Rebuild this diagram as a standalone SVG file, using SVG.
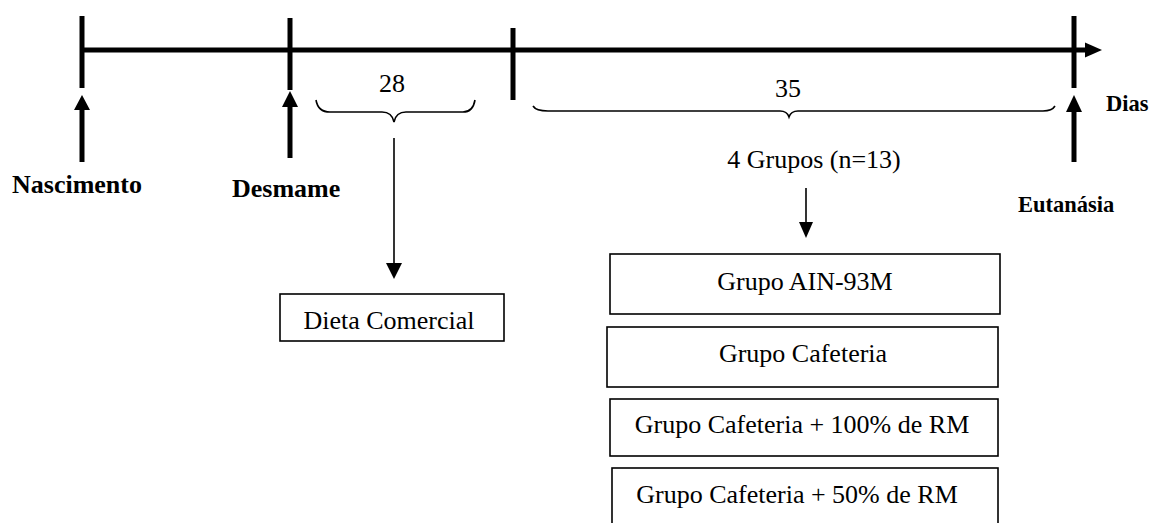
<svg xmlns="http://www.w3.org/2000/svg" width="1153" height="523" viewBox="0 0 1153 523">
<style>
.t{font-family:"Liberation Serif","Times New Roman",serif;font-size:26px;fill:#000}
.b{font-weight:bold}
.box{fill:#fff;stroke:#000;stroke-width:1.6}
.thick{stroke:#000;stroke-width:5;fill:none}
.thin{stroke:#000;stroke-width:1.6;fill:none}
.head{fill:#000;stroke:none}
</style>
<g id="connectors">
  <line class="thick" x1="82" y1="50" x2="1088" y2="50"/>
  <polygon class="head" points="1085,42.5 1102,50 1085,57.5"/>
  <line class="thick" x1="82" y1="16" x2="82" y2="88"/>
  <line class="thick" x1="290" y1="18" x2="290" y2="90"/>
  <line class="thick" x1="513" y1="28" x2="513" y2="100"/>
  <line class="thick" x1="1074" y1="16" x2="1074" y2="88"/>
  <line class="thick" x1="82" y1="108" x2="82" y2="162"/>
  <polygon class="head" points="74,110 82,95 90,110"/>
  <line class="thick" x1="290" y1="105" x2="290" y2="158"/>
  <polygon class="head" points="282,107 290,91 298,107"/>
  <line class="thick" x1="1074" y1="110" x2="1074" y2="162"/>
  <polygon class="head" points="1066,112 1074,95 1082,112"/>
  <path class="thin" d="M316,100 Q318,112 330,112 L382,112 Q392,112 394,122 Q396,112 406,112 L463,112 Q473,112 475,100"/>
  <path class="thin" d="M533,106 Q536,111 548,111 L780,111 Q787,111 789,117 Q791,111 798,111 L1043,111 Q1052,111 1055,106"/>
  <line class="thin" x1="394" y1="138" x2="394" y2="265"/>
  <polygon class="head" points="386,263 394,279 402,263"/>
  <line class="thin" x1="806" y1="188" x2="806" y2="224"/>
  <polygon class="head" points="799,222 806,238 813,222"/>
</g>
<g id="label-nascimento"><text class="t b" x="12" y="193">Nascimento</text></g>
<g id="label-desmame"><text class="t b" x="232" y="197">Desmame</text></g>
<g id="label-eutanasia"><text class="t b" x="1018" y="212" style="font-size:22.5px">Eutanásia</text></g>
<g id="label-dias"><text class="t b" x="1106" y="111" style="font-size:22.5px">Dias</text></g>
<g id="label-28"><text class="t" x="392" y="92" text-anchor="middle">28</text></g>
<g id="label-35"><text class="t" x="788" y="97" text-anchor="middle">35</text></g>
<g id="label-grupos"><text class="t" x="814" y="168" text-anchor="middle">4 Grupos (n=13)</text></g>
<g id="node-dieta">
  <rect class="box" x="280" y="294" width="224" height="47"/>
  <text class="t" x="389" y="329" text-anchor="middle">Dieta Comercial</text>
</g>
<g id="node-ain">
  <rect class="box" x="610" y="254" width="390" height="60"/>
  <text class="t" x="805" y="290" text-anchor="middle">Grupo AIN-93M</text>
</g>
<g id="node-cafeteria">
  <rect class="box" x="607" y="327" width="391" height="60"/>
  <text class="t" x="803" y="362" text-anchor="middle">Grupo Cafeteria</text>
</g>
<g id="node-caf100">
  <rect class="box" x="610" y="399" width="388" height="57"/>
  <text class="t" x="802" y="433" text-anchor="middle">Grupo Cafeteria + 100% de RM</text>
</g>
<g id="node-caf50">
  <rect class="box" x="612" y="468" width="386" height="70"/>
  <text class="t" x="797" y="503" text-anchor="middle">Grupo Cafeteria + 50% de RM</text>
</g>
</svg>
